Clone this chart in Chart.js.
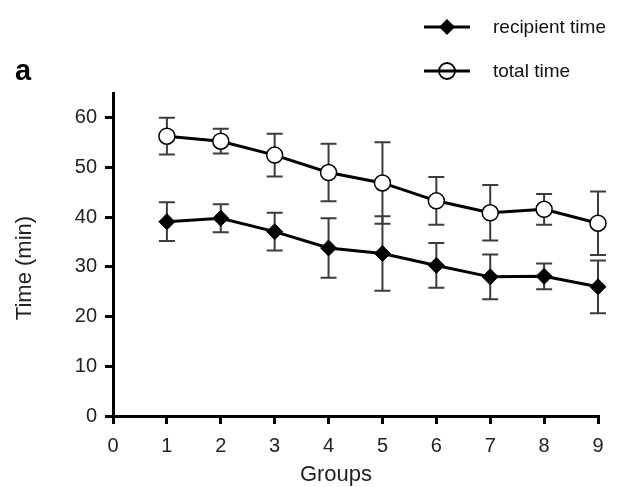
<!DOCTYPE html>
<html>
<head>
<meta charset="utf-8">
<script src="https://cdn.jsdelivr.net/npm/chart.js@4.4.1/dist/chart.umd.min.js"></script>
<style>
html,body{margin:0;padding:0;background:#fff;}
#wrap{width:632px;height:487px;position:relative;}
</style>
</head>
<body>
<div id="wrap"><canvas id="c" width="632" height="487"></canvas></div>
<script>
const groups = [1, 2, 3, 4, 5, 6, 7, 8, 9];
const recipientMean = [39.1, 39.8, 37.1, 33.8, 32.7, 30.3, 28.0, 28.1, 26.0];
const recipientSD   = [3.9, 2.8, 3.8, 6.0, 7.5, 4.5, 4.5, 2.6, 5.3];
const totalMean     = [56.3, 55.3, 52.5, 49.0, 46.9, 43.3, 40.9, 41.6, 38.8];
const totalSD       = [3.7, 2.5, 4.3, 5.8, 8.2, 4.8, 5.6, 3.1, 6.4];
const xTicks = [0, 1, 2, 3, 4, 5, 6, 7, 8, 9];
const yTicks = [0, 10, 20, 30, 40, 50, 60];
const seriesNames = ['recipient time', 'total time'];
const xTitle = 'Groups';
const yTitle = 'Time (min)';
const panelLabel = 'a';

const FONT = "'Liberation Sans', Arial, sans-serif";

const errorBars = {
  id: 'errorBars',
  beforeDatasetsDraw(chart) {
    const ctx = chart.ctx;
    const xs = chart.scales.x, ys = chart.scales.y;
    const sets = [[recipientMean, recipientSD], [totalMean, totalSD]];
    ctx.save();
    ctx.strokeStyle = '#3c3c3c';
    ctx.lineWidth = 2;
    sets.forEach(([m, s]) => {
      groups.forEach((g, i) => {
        const x = xs.getPixelForValue(g);
        const yt = ys.getPixelForValue(m[i] + s[i]);
        const yb = ys.getPixelForValue(m[i] - s[i]);
        ctx.beginPath();
        ctx.moveTo(x, yt); ctx.lineTo(x, yb);
        ctx.moveTo(x - 8, yt); ctx.lineTo(x + 8, yt);
        ctx.moveTo(x - 8, yb); ctx.lineTo(x + 8, yb);
        ctx.stroke();
      });
    });
    ctx.restore();
  }
};

const extras = {
  id: 'extras',
  afterDraw(chart) {
    const ctx = chart.ctx;
    ctx.save();
    // panel letter
    ctx.fillStyle = '#000';
    ctx.font = "bold 29px " + FONT;
    ctx.textBaseline = 'alphabetic';
    ctx.textAlign = 'left';
    ctx.fillText(panelLabel, 15, 80);
    // axis titles
    ctx.fillStyle = '#222';
    ctx.font = "22px " + FONT;
    ctx.textAlign = 'center';
    ctx.textBaseline = 'middle';
    ctx.fillText(xTitle, 336, 475);
    ctx.save();
    ctx.translate(25, 268);
    ctx.rotate(-Math.PI / 2);
    ctx.fillText(yTitle, 0, 0);
    ctx.restore();
    // legend
    const rows = [27, 71];
    chart.data.datasets.forEach((ds, i) => {
      const y = rows[i];
      ctx.strokeStyle = '#000';
      ctx.lineWidth = 3;
      ctx.beginPath();
      ctx.moveTo(424, y); ctx.lineTo(470, y);
      ctx.stroke();
      const cx = 447;
      if (ds.pointStyle === 'rectRot') {
        const r = 8;
        ctx.fillStyle = '#000';
        ctx.beginPath();
        ctx.moveTo(cx, y - r); ctx.lineTo(cx + r, y); ctx.lineTo(cx, y + r); ctx.lineTo(cx - r, y);
        ctx.closePath(); ctx.fill();
      } else {
        ctx.lineWidth = 1.8;
        ctx.beginPath();
        ctx.arc(cx, y, 8, 0, Math.PI * 2);
        ctx.stroke();
      }
      ctx.fillStyle = '#111';
      ctx.font = "19px " + FONT;
      ctx.textAlign = 'left';
      ctx.textBaseline = 'middle';
      ctx.fillText(ds.label, 493, y + 1);
    });
    ctx.restore();
  }
};

new Chart(document.getElementById('c'), {
  type: 'line',
  data: {
    datasets: [
      {
        label: seriesNames[0],
        data: groups.map((g, i) => ({x: g, y: recipientMean[i]})),
        borderColor: '#000',
        borderWidth: 3,
        pointStyle: 'rectRot',
        pointRadius: 8,
        pointBackgroundColor: '#000',
        pointBorderColor: '#000',
        pointBorderWidth: 1,
        tension: 0,
        clip: false
      },
      {
        label: seriesNames[1],
        data: groups.map((g, i) => ({x: g, y: totalMean[i]})),
        borderColor: '#000',
        borderWidth: 3,
        pointStyle: 'circle',
        pointRadius: 8,
        pointBackgroundColor: '#fff',
        pointBorderColor: '#000',
        pointBorderWidth: 1.5,
        tension: 0,
        clip: false
      }
    ]
  },
  options: {
    responsive: false,
    animation: false,
    events: [],
    layout: {padding: {left: 0, top: 93, right: 34, bottom: 0}},
    plugins: {legend: {display: false}, tooltip: {enabled: false}},
    scales: {
      x: {
        type: 'linear',
        min: 0, max: 9,
        afterBuildTicks(s) { s.ticks = xTicks.map(v => ({value: v})); },
        afterFit(s) { s.height = 71; },
        grid: {drawOnChartArea: false, drawTicks: true, tickLength: 8, lineWidth: 3, color: '#000'},
        border: {display: true, width: 3, color: '#000'},
        ticks: {color: '#222', font: {family: FONT, size: 20}, padding: 10, maxRotation: 0},
        title: {display: false}
      },
      y: {
        type: 'linear',
        min: 0, max: 65,
        afterBuildTicks(s) { s.ticks = yTicks.map(v => ({value: v})); },
        afterFit(s) { s.width = 113; },
        grid: {drawOnChartArea: false, drawTicks: true, tickLength: 8, lineWidth: 3, color: '#000'},
        border: {display: true, width: 3, color: '#000'},
        ticks: {color: '#222', font: {family: FONT, size: 20}, padding: 8},
        title: {display: false}
      }
    }
  },
  plugins: [errorBars, extras]
});
</script>
</body>
</html>
